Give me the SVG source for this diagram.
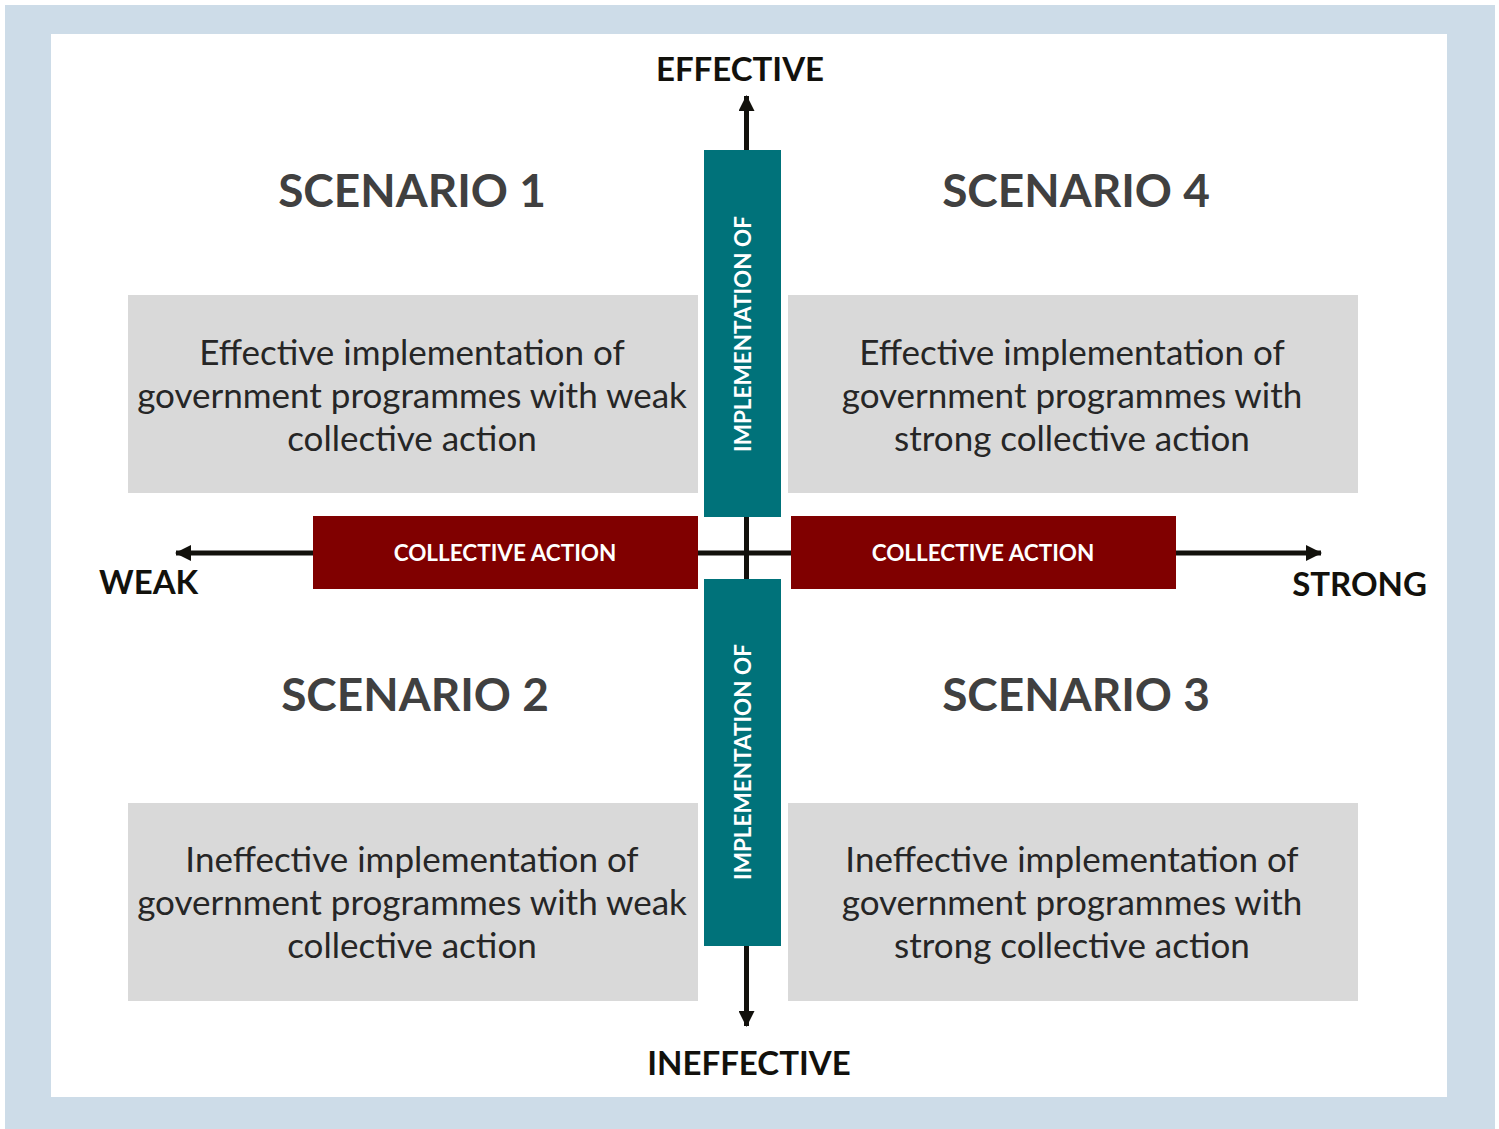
<svg xmlns="http://www.w3.org/2000/svg" width="1499" height="1129" viewBox="0 0 1499 1129">
<style>
.t{font-family:Lato,"Open Sans","Liberation Sans",sans-serif;}
.ax{font-weight:bold;font-size:33px;fill:#12110c;}
.sc{font-weight:bold;font-size:46px;fill:#404040;text-anchor:middle;}
.bd{font-size:35px;fill:#262626;text-anchor:middle;}
.wl{font-weight:bold;font-size:22.5px;fill:#ffffff;text-anchor:middle;}
.box{fill:#d9d9d9;}
.teal{fill:#00727a;}
.red{fill:#800000;}
.ln{stroke:#12110c;stroke-width:5;fill:none;}
</style>
<defs>
<marker id="ah" viewBox="0 0 16 16" refX="15" refY="8" markerWidth="16" markerHeight="16" markerUnits="userSpaceOnUse" orient="auto">
<path d="M0,0 L16,8 L0,16 Z" fill="#12110c"/>
</marker>
</defs>
<rect x="5" y="5" width="1490" height="1124" fill="#cddce8"/>
<rect x="51" y="34" width="1396" height="1063" fill="#ffffff"/>

<g id="connectors">
<line class="ln" x1="746.5" y1="553" x2="746.5" y2="96" marker-end="url(#ah)"/>
<line class="ln" x1="746.5" y1="553" x2="746.5" y2="1026" marker-end="url(#ah)"/>
<line class="ln" x1="746.5" y1="553" x2="176" y2="553" marker-end="url(#ah)"/>
<line class="ln" x1="746.5" y1="553" x2="1321" y2="553" marker-end="url(#ah)"/>
</g>

<g id="label-effective"><text class="t ax" x="740" y="81" text-anchor="middle">EFFECTIVE</text></g>
<g id="label-ineffective"><text class="t ax" x="749" y="1075" text-anchor="middle">INEFFECTIVE</text></g>
<g id="label-weak"><text class="t ax" x="99" y="594">WEAK</text></g>
<g id="label-strong"><text class="t ax" x="1427" y="596" text-anchor="end">STRONG</text></g>

<g id="scenario1">
<text class="t sc" x="412" y="207">SCENARIO 1</text>
<rect class="box" x="128" y="295" width="570" height="198"/>
<text class="t bd" x="412" y="365">Effective implementation of</text>
<text class="t bd" x="412" y="408">government programmes with weak</text>
<text class="t bd" x="412" y="451">collective action</text>
</g>
<g id="scenario4">
<text class="t sc" x="1076" y="207">SCENARIO 4</text>
<rect class="box" x="788" y="295" width="570" height="198"/>
<text class="t bd" x="1072" y="365">Effective implementation of</text>
<text class="t bd" x="1072" y="408">government programmes with</text>
<text class="t bd" x="1072" y="451">strong collective action</text>
</g>
<g id="scenario2">
<text class="t sc" x="415" y="711">SCENARIO 2</text>
<rect class="box" x="128" y="803" width="570" height="198"/>
<text class="t bd" x="412" y="872">Ineffective implementation of</text>
<text class="t bd" x="412" y="915">government programmes with weak</text>
<text class="t bd" x="412" y="958">collective action</text>
</g>
<g id="scenario3">
<text class="t sc" x="1076" y="711">SCENARIO 3</text>
<rect class="box" x="788" y="803" width="570" height="198"/>
<text class="t bd" x="1072" y="872">Ineffective implementation of</text>
<text class="t bd" x="1072" y="915">government programmes with</text>
<text class="t bd" x="1072" y="958">strong collective action</text>
</g>

<g id="impl-top">
<rect class="teal" x="704" y="150" width="77" height="367"/>
<text class="t wl" transform="translate(751,334) rotate(-90)">IMPLEMENTATION OF</text>
</g>
<g id="impl-bottom">
<rect class="teal" x="704" y="579" width="77" height="367"/>
<text class="t wl" transform="translate(751,762) rotate(-90)">IMPLEMENTATION OF</text>
</g>
<g id="collective-left">
<rect class="red" x="313" y="516" width="385" height="73"/>
<text class="t wl" x="505" y="561">COLLECTIVE ACTION</text>
</g>
<g id="collective-right">
<rect class="red" x="791" y="516" width="385" height="73"/>
<text class="t wl" x="983" y="561">COLLECTIVE ACTION</text>
</g>
</svg>
